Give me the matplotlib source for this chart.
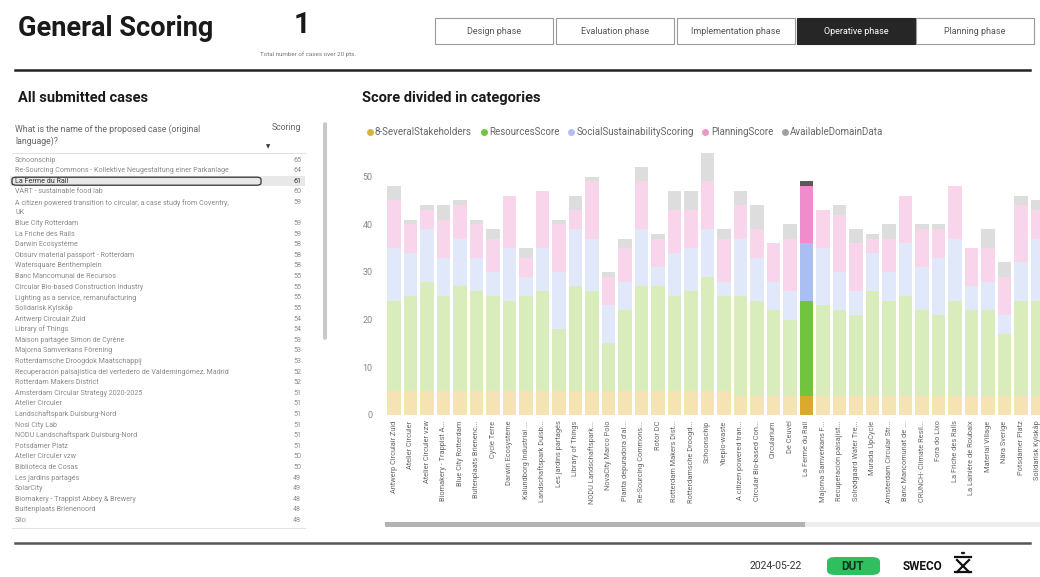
import matplotlib
matplotlib.use("Agg")
import matplotlib.pyplot as plt
from matplotlib import font_manager
from matplotlib.patches import Rectangle, FancyBboxPatch, Circle
from matplotlib.lines import Line2D

# ---- data ----
phases = ["Design phase", "Evaluation phase", "Implementation phase", "Operative phase", "Planning phase"]
selected_phase = "Operative phase"

case_names = [
    "Schoonschip",
    "Re-Sourcing Commons - Kollektive Neugestaltung einer Parkanlage",
    "La Ferme du Rail",
    "VÄRT - sustainable food lab",
    "A citizen powered transition to circular, a case study from Coventry,\nUK",
    "Blue City Rotterdam",
    "La Friche des Rails",
    "Darwin Ecosystème",
    "Obsurv material passport - Rotterdam",
    "Watersquare Benthemplein",
    "Banc Mancomunal de Recursos",
    "Circular Bio-based Construction Industry",
    "Lighting as a service, remanufacturing",
    "Solidarisk Kylskåp",
    "Antwerp Circulair Zuid",
    "Library of Things",
    "Maison partagée Simon de Cyrène",
    "Majorna Samverkans Förening",
    "Rotterdamsche Droogdok Maatschappij",
    "Recuperación paisajística del vertedero de Valdemingómez, Madrid",
    "Rotterdam Makers District",
    "Amsterdam Circular Strategy 2020-2025",
    "Atelier Circuler",
    "Landschaftspark Duisburg-Nord",
    "Nosi City Lab",
    "NODU Landschaftspark Duisburg-Nord",
    "Potsdamer Platz",
    "Atelier Circuler vzw",
    "Biblioteca de Cosas",
    "Les jardins partagés",
    "SolarCity",
    "Biomakery - Trappist Abbey & Brewery",
    "Buitenplaats Brienenoord",
    "Silo",
]
case_scores = [65, 64, 61, 60, 59, 59, 59, 58, 58, 58, 55, 55, 55, 55, 54, 54, 53, 53, 53,
               52, 52, 51, 51, 51, 51, 51, 51, 50, 50, 49, 49, 48, 48, 48]
highlight_case = "La Ferme du Rail"

bar_labels = [
    "Antwerp Circulair Zuid", "Atelier Circuler", "Atelier Circuler vzw", "Biomakery - Trappist A...",
    "Blue City Rotterdam", "Buitenplaats Brienenc...", "Cycle Terre", "Darwin Ecosystème",
    "Kalundborg Industrial ...", "Landschaftspark Duisb...", "Les jardins partagés", "Library of Things",
    "NODU Landschaftspark...", "NovaCity Marco Polo", "Planta depuradora d'al...", "Re-Sourcing Commons...",
    "Rotor DC", "Rotterdam Makers Dist...", "Rotterdamsche Droogd...", "Schoonschip",
    "Ybeplo-waste", "A citizen powered tran...", "Circular Bio-based Con...", "Circularium",
    "De Ceuvel", "La Ferme du Rail", "Majorna Samverkans F...", "Recuperación paisajíst...",
    "Solrødgaard Water Tre...", "Murada UpCycle", "Amsterdam Circular Str...", "Banc Mancomunat de ...",
    "CRUNCH- Climate Resil...", "Fora do Lixo", "La Friche des Rails", "La Lainière de Roubaix",
    "Material Village", "Nära Sverige", "Potsdamer Platz", "Solidarisk Kylskåp",
]
stakeholders = [5, 5, 5, 5, 5, 5, 5, 5, 5, 5, 5, 5, 5, 5, 5, 5, 5, 5, 5, 5,
                5, 4, 4, 4, 4, 4, 4, 4, 4, 4, 4, 4, 4, 4, 4, 4, 4, 4, 4, 4]
resources = [19, 20, 23, 20, 22, 21, 20, 19, 20, 21, 13, 22, 21, 10, 17, 22, 22, 20, 21, 24,
             20, 21, 20, 18, 16, 20, 19, 18, 17, 22, 20, 21, 18, 17, 20, 18, 18, 13, 20, 20]
social = [11, 9, 11, 8, 10, 7, 5, 11, 4, 9, 12, 12, 11, 8, 6, 12, 4, 9, 9, 10,
          3, 12, 9, 6, 6, 12, 12, 8, 5, 8, 6, 11, 9, 12, 13, 5, 6, 4, 8, 13]
planning = [10, 6, 4, 8, 7, 7, 7, 11, 4, 12, 10, 4, 12, 6, 7, 10, 6, 9, 8, 10,
            9, 7, 6, 8, 11, 12, 8, 12, 10, 3, 7, 10, 8, 6, 11, 8, 7, 8, 12, 6]
domain = [3, 1, 1, 3, 1, 1, 2, 0, 2, 0, 1, 3, 1, 1, 2, 3, 1, 4, 4, 6,
          2, 3, 5, 0, 3, 1, 0, 2, 3, 1, 3, 0, 1, 1, 0, 0, 4, 3, 2, 2]

series_names = ["8-SeveralStakeholders", "ResourcesScore", "SocialSustainabilityScoring",
                "PlanningScore", "AvailableDomainData"]
series_values = [stakeholders, resources, social, planning, domain]
full_colors = ["#d9aa2c", "#72c43e", "#a9bff2", "#f08ccc", "#5a5a5a"]
faded_colors = ["#f6e3b4", "#d8edbb", "#e0e8fa", "#f9d5ec", "#dddddd"]
legend_colors = ["#d6b43c", "#72c43e", "#b3bdf2", "#f394c8", "#a0a0a0"]

# ---- fonts ----
installed = {f.name for f in font_manager.fontManager.ttflist}
narrow = "Liberation Sans Narrow" if "Liberation Sans Narrow" in installed else "Roboto"
plt.rcParams["font.family"] = ["Roboto", "DejaVu Sans"]

W, H = 1040, 577
fig = plt.figure(figsize=(W / 100, H / 100), dpi=100)


def fx(x):
    return x / W


def fy(y):
    return 1 - y / H


# ---- header ----
fig.text(fx(18), fy(28), "General Scoring", fontsize=19.5, fontweight="bold",
         family=narrow, va="center", color="#1a1a1a")
fig.text(fx(302), fy(25), "1", fontsize=21, fontweight="bold", family=narrow,
         ha="center", va="center", color="#1a1a1a")
fig.text(fx(308), fy(54), "Total number of cases over 20 pts.", fontsize=4.5,
         ha="center", va="center", color="#777777")

btn_x = [435, 556, 677, 797, 916]
for x0, name in zip(btn_x, phases):
    sel = name == selected_phase
    fig.patches.append(Rectangle((fx(x0), fy(44)), 118 / W, 26 / H, transform=fig.transFigure,
                                 facecolor="#262626" if sel else "white",
                                 edgecolor="#262626" if sel else "#9a9a9a", lw=0.8))
    fig.text(fx(x0 + 59), fy(31), name, fontsize=6.5, family=narrow, ha="center", va="center",
             color="white" if sel else "#555555")

fig.add_artist(Line2D([fx(15), fx(1030)], [fy(70), fy(70)], color="#222222", lw=1.8))
fig.add_artist(Line2D([fx(15), fx(1030)], [fy(543), fy(543)], color="#555555", lw=1.8))

# ---- table ----
fig.text(fx(18), fy(98), "All submitted cases", fontsize=10.5, fontweight="bold", va="center",
         color="#1a1a1a")
fig.text(fx(15), fy(135), "What is the name of the proposed case (original\nlanguage)?",
         fontsize=6.3, va="center", color="#666666", linespacing=1.25)
fig.text(fx(301), fy(128), "Scoring", fontsize=6.3, ha="right", va="center", color="#666666")
fig.text(fx(268), fy(147), "▼", fontsize=4, ha="center", va="center", color="#333333")
fig.add_artist(Line2D([fx(12), fx(305)], [fy(153), fy(153)], color="#dddddd", lw=0.6))

row_h = 10.6
y = 160
for name, score in zip(case_names, case_scores):
    nlines = name.count("\n") + 1
    yc = y + (nlines - 1) * row_h / 2
    hl = name == highlight_case
    if hl:
        fig.patches.append(Rectangle((fx(10), fy(y + 5)), 295 / W, 10 / H, transform=fig.transFigure,
                                     facecolor="#e8e8e8", edgecolor="none"))
        fig.patches.append(FancyBboxPatch((fx(12), fy(y + 4)), 249 / W, 8 / H,
                                          boxstyle="round,pad=0,rounding_size=0.004",
                                          transform=fig.transFigure, facecolor="none",
                                          edgecolor="#333333", lw=0.9))
    col = "#333333" if hl else "#8a8a8a"
    fig.text(fx(15), fy(yc), name, fontsize=5.1, va="center", color=col, linespacing=1.45)
    fig.text(fx(301), fy(y), str(score), fontsize=5.1, ha="right", va="center", color=col)
    y += row_h * nlines
fig.add_artist(Line2D([fx(12), fx(305)], [fy(528), fy(528)], color="#dddddd", lw=0.6))
fig.patches.append(FancyBboxPatch((fx(323), fy(340)), 4 / W, 218 / H,
                                  boxstyle="round,pad=0,rounding_size=0.003",
                                  transform=fig.transFigure, facecolor="#c8c8c8", edgecolor="none"))

# ---- chart ----
fig.text(fx(362), fy(98), "Score divided in categories", fontsize=10.5, fontweight="bold",
         va="center", color="#1a1a1a")

ax = fig.add_axes([fx(385), fy(415), 655 / W, 267 / H])
x = list(range(len(bar_labels)))
hi = bar_labels.index(highlight_case)
bottom = [0] * len(bar_labels)
for vals, fc, lc in zip(series_values, faded_colors, full_colors):
    colors = [lc if i == hi else fc for i in x]
    ax.bar(x, vals, width=0.8, bottom=bottom, color=colors, edgecolor="none")
    bottom = [b + v for b, v in zip(bottom, vals)]

ax.set_xlim(-0.55, 39.15)
ax.set_ylim(0, 56)
ax.set_yticks([0, 10, 20, 30, 40, 50])
ax.set_xticks(x)
ax.set_xticklabels(bar_labels, rotation=90, fontsize=5.3, color="#666666")
ax.tick_params(axis="y", length=0, labelsize=6.5, labelcolor="#888888", pad=9)
ax.tick_params(axis="x", length=0, pad=4)
for s in ax.spines.values():
    s.set_visible(False)

handles = [Line2D([], [], marker="o", linestyle="none", markersize=5, markerfacecolor=c,
                  markeredgecolor="none") for c in legend_colors]
fig.legend(handles, series_names, loc="center left", bbox_to_anchor=(fx(356), fy(132)),
           ncol=5, frameon=False, fontsize=7, handletextpad=0.05, columnspacing=0.7,
           handlelength=1.0, labelcolor="#666666")

# horizontal scrollbar
fig.patches.append(Rectangle((fx(385), fy(527)), 655 / W, 5 / H, transform=fig.transFigure,
                             facecolor="#ececec", edgecolor="none"))
fig.patches.append(Rectangle((fx(385), fy(527)), 420 / W, 5 / H, transform=fig.transFigure,
                             facecolor="#b3b3b3", edgecolor="none"))

# ---- footer ----
fig.text(fx(776), fy(566), "2024-05-22", fontsize=7.5, ha="center", va="center", color="#333333")
fig.patches.append(FancyBboxPatch((fx(827), fy(575)), 53 / W, 18 / H,
                                  boxstyle="round,pad=0,rounding_size=0.008",
                                  transform=fig.transFigure, facecolor="#2fbf5f", edgecolor="none"))
fig.text(fx(853), fy(566), "DUT", fontsize=8.5, fontweight="bold", ha="center", va="center",
         color="#11331f")
fig.text(fx(903), fy(567), "SWECO", fontsize=8.5, fontweight="bold", va="center", color="#111111")
# small sweco figure mark
fig.patches.append(Circle((fx(963), fy(553)), 2.2 / W, transform=fig.transFigure,
                          facecolor="#111111", edgecolor="none"))
for (xa, ya, xb, yb) in [(955, 557, 971, 557), (957, 560, 969, 572), (969, 560, 957, 572),
                         (955, 572, 971, 572)]:
    fig.add_artist(Line2D([fx(xa), fx(xb)], [fy(ya), fy(yb)], color="#111111", lw=1.6))

fig.savefig("out.png", dpi=100)
